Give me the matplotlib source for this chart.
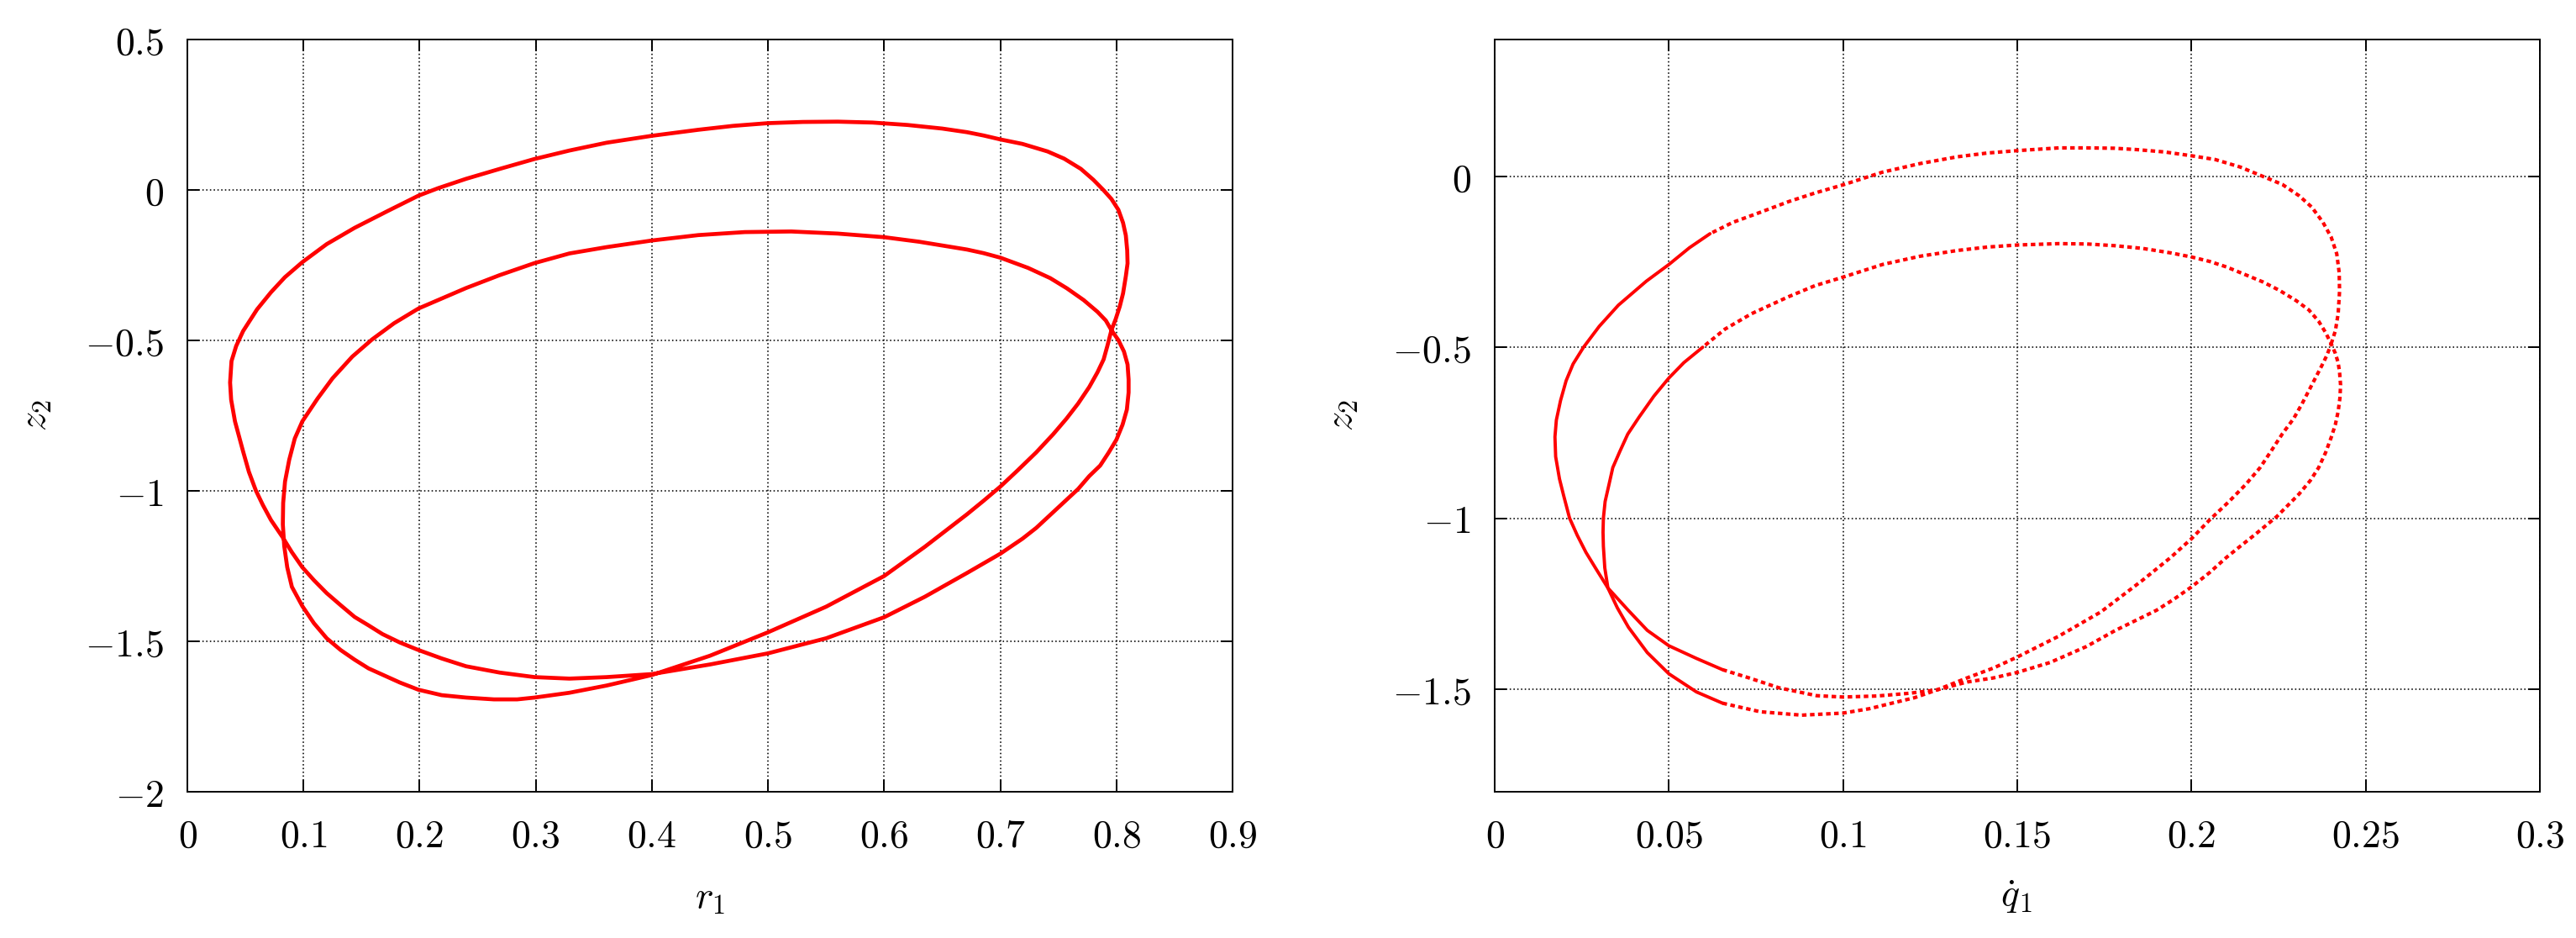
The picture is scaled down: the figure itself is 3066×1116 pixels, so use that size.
import numpy as np
import matplotlib
matplotlib.use("Agg")
import matplotlib.pyplot as plt

plt.rcParams['mathtext.fontset'] = 'cm'
plt.rcParams['font.family'] = ['DejaVu Serif']

# ---------------- data ----------------
# Left panel: z2 versus r1 (closed period-2 orbit), traced point by point
r1 = [0.7957, 0.7993, 0.8029, 0.8057, 0.8081, 0.8096, 0.8093, 0.8081, 0.8057, 0.8017,
      0.7957, 0.7885, 0.7801, 0.7694, 0.7550, 0.7407, 0.7191, 0.7000, 0.6856, 0.6713,
      0.650, 0.620, 0.590, 0.560, 0.530, 0.500, 0.470, 0.440, 0.400, 0.361,
      0.329, 0.299, 0.269, 0.240, 0.216, 0.199, 0.173, 0.144, 0.120, 0.099,
      0.084, 0.072, 0.060, 0.048, 0.042, 0.038, 0.0368, 0.0377, 0.041, 0.048,
      0.053, 0.059, 0.065, 0.072, 0.082, 0.090, 0.099, 0.109, 0.120, 0.132,
      0.144, 0.156, 0.168, 0.183, 0.199, 0.219, 0.240, 0.269, 0.299, 0.329,
      0.361, 0.400, 0.450, 0.500, 0.550, 0.600, 0.635, 0.6713, 0.6856, 0.7000,
      0.7191, 0.731, 0.743, 0.755, 0.767, 0.7766, 0.786, 0.7933, 0.800, 0.8053,
      0.809, 0.8105, 0.8105, 0.8096, 0.8065, 0.8017, 0.7957,
      0.7909, 0.7837, 0.7718, 0.7574, 0.743, 0.7239, 0.700, 0.6856, 0.6713, 0.630,
      0.600, 0.560, 0.520, 0.480, 0.440, 0.400, 0.361, 0.329, 0.299, 0.269,
      0.240, 0.216, 0.199, 0.178, 0.159, 0.142, 0.125, 0.112, 0.099, 0.0925,
      0.0877, 0.0841, 0.0825, 0.0822, 0.0834, 0.086, 0.090, 0.099, 0.109, 0.120,
      0.132, 0.144, 0.156, 0.168, 0.183, 0.199, 0.219, 0.240, 0.264, 0.284,
      0.299, 0.329, 0.361, 0.400, 0.450, 0.500, 0.550, 0.600, 0.635, 0.6713,
      0.6856, 0.700, 0.7144, 0.731, 0.7455, 0.757, 0.767, 0.7766, 0.7837, 0.789,
      0.7921, 0.7957]
z2_left = [-0.466, -0.430, -0.387, -0.344, -0.287, -0.244, -0.201, -0.151, -0.109, -0.066,
           -0.030, 0.001, 0.034, 0.070, 0.104, 0.128, 0.153, 0.168, 0.181, 0.192,
           0.204, 0.216, 0.224, 0.227, 0.226, 0.222, 0.213, 0.200, 0.180, 0.157,
           0.131, 0.103, 0.070, 0.037, 0.006, -0.019, -0.069, -0.126, -0.180, -0.240,
           -0.290, -0.340, -0.397, -0.469, -0.519, -0.569, -0.640, -0.697, -0.769, -0.869,
           -0.937, -0.999, -1.047, -1.097, -1.154, -1.204, -1.254, -1.297, -1.340, -1.380,
           -1.419, -1.447, -1.476, -1.504, -1.529, -1.557, -1.583, -1.604, -1.619, -1.624,
           -1.619, -1.609, -1.577, -1.540, -1.490, -1.420, -1.352, -1.273, -1.241, -1.209,
           -1.159, -1.123, -1.080, -1.037, -0.994, -0.951, -0.916, -0.873, -0.830, -0.780,
           -0.730, -0.673, -0.630, -0.580, -0.537, -0.499, -0.466,
           -0.434, -0.405, -0.366, -0.327, -0.293, -0.259, -0.225, -0.210, -0.198, -0.172,
           -0.157, -0.145, -0.138, -0.140, -0.150, -0.168, -0.190, -0.211, -0.243, -0.283,
           -0.326, -0.366, -0.394, -0.443, -0.497, -0.554, -0.626, -0.694, -0.769, -0.826,
           -0.897, -0.969, -1.040, -1.111, -1.183, -1.254, -1.319, -1.383, -1.440, -1.490,
           -1.529, -1.561, -1.590, -1.611, -1.637, -1.661, -1.679, -1.687, -1.693, -1.693,
           -1.687, -1.671, -1.647, -1.612, -1.548, -1.470, -1.385, -1.283, -1.186, -1.078,
           -1.033, -0.986, -0.934, -0.872, -0.812, -0.760, -0.710, -0.655, -0.606, -0.563,
           -0.520, -0.466]

# Right panel: z2 versus q1-dot (closed period-2 orbit), traced point by point
q1dot = [0.2401, 0.2413, 0.2421, 0.2425, 0.2424, 0.2417, 0.2401, 0.2377, 0.2345, 0.2309,
         0.2261, 0.2197, 0.2140, 0.2068, 0.2000, 0.1924, 0.1843, 0.1779, 0.1699, 0.1619,
         0.1500, 0.1414, 0.1328, 0.1220, 0.1113, 0.1000, 0.0919, 0.0844, 0.0758, 0.0683,
         0.0618, 0.0559, 0.0500, 0.0435, 0.0355, 0.0300, 0.0255, 0.0225, 0.0205, 0.0189,
         0.0177, 0.0173, 0.0175, 0.0186, 0.0198, 0.0215, 0.0237, 0.0262, 0.0292, 0.0325,
         0.0384, 0.0438, 0.0500, 0.0579, 0.0654, 0.0730, 0.0816, 0.0924, 0.1000, 0.1097,
         0.1190, 0.1270, 0.1356, 0.1432, 0.1500, 0.1594, 0.1699, 0.1780, 0.1840, 0.1900,
         0.1948, 0.2000, 0.2052, 0.2100, 0.2140, 0.2181, 0.2245, 0.2309, 0.2341, 0.2365,
         0.2385, 0.2401, 0.2413, 0.2421, 0.2426, 0.2428, 0.2425, 0.2421, 0.2413, 0.2401,
         0.2385, 0.2365, 0.2337, 0.2301, 0.2253, 0.2205, 0.2148, 0.2100, 0.2052, 0.2000,
         0.1940, 0.1860, 0.1780, 0.1700, 0.1619, 0.1500, 0.1414, 0.1328, 0.1220, 0.1113,
         0.1000, 0.0919, 0.0844, 0.0737, 0.0661, 0.0597, 0.0543, 0.0500, 0.0457, 0.0414,
         0.0382, 0.0360, 0.0339, 0.0328, 0.0317, 0.0312, 0.0311, 0.0312, 0.0316, 0.0325,
         0.0352, 0.0384, 0.0438, 0.0500, 0.0579, 0.0654, 0.0762, 0.0881, 0.1000, 0.1076,
         0.1140, 0.1205, 0.1270, 0.1356, 0.1432, 0.1500, 0.1619, 0.1740, 0.1860, 0.1940,
         0.2000, 0.2052, 0.2108, 0.2156, 0.2197, 0.2229, 0.2261, 0.2293, 0.2317, 0.2345,
         0.2373, 0.2389, 0.2401]
z2_right = [-0.490, -0.452, -0.402, -0.337, -0.282, -0.227, -0.178, -0.134, -0.090, -0.057,
            -0.024, 0.003, 0.027, 0.049, 0.060, 0.071, 0.078, 0.082, 0.083, 0.083,
            0.075, 0.068, 0.057, 0.037, 0.012, -0.025, -0.049, -0.074, -0.107, -0.135,
            -0.168, -0.209, -0.258, -0.307, -0.377, -0.439, -0.500, -0.549, -0.598, -0.656,
            -0.713, -0.762, -0.820, -0.885, -0.934, -1.000, -1.050, -1.100, -1.150, -1.204,
            -1.270, -1.328, -1.373, -1.410, -1.443, -1.467, -1.496, -1.519, -1.523, -1.520,
            -1.512, -1.502, -1.479, -1.467, -1.451, -1.422, -1.375, -1.329, -1.299, -1.269,
            -1.238, -1.201, -1.159, -1.115, -1.082, -1.049, -0.995, -0.929, -0.890, -0.852,
            -0.808, -0.764, -0.726, -0.688, -0.649, -0.611, -0.572, -0.545, -0.518, -0.490,
            -0.457, -0.424, -0.391, -0.364, -0.334, -0.309, -0.285, -0.265, -0.249, -0.236,
            -0.224, -0.211, -0.203, -0.198, -0.197, -0.201, -0.207, -0.217, -0.234, -0.258,
            -0.295, -0.320, -0.352, -0.402, -0.447, -0.500, -0.545, -0.590, -0.643, -0.705,
            -0.754, -0.803, -0.852, -0.902, -0.951, -1.000, -1.041, -1.082, -1.145, -1.204,
            -1.262, -1.319, -1.393, -1.455, -1.508, -1.541, -1.566, -1.576, -1.570, -1.557,
            -1.541, -1.525, -1.502, -1.467, -1.438, -1.406, -1.345, -1.274, -1.181, -1.115,
            -1.060, -1.005, -0.951, -0.901, -0.852, -0.803, -0.753, -0.709, -0.666, -0.611,
            -0.556, -0.523, -0.490]

left_xticks = [0, 0.1, 0.2, 0.3, 0.4, 0.5, 0.6, 0.7, 0.8, 0.9]
left_xticklabels = ['0', '0.1', '0.2', '0.3', '0.4', '0.5', '0.6', '0.7', '0.8', '0.9']
left_yticks = [0.5, 0, -0.5, -1, -1.5, -2]
left_yticklabels = ['0.5', '0', '-0.5', '-1', '-1.5', '-2']
right_xticks = [0, 0.05, 0.1, 0.15, 0.2, 0.25, 0.3]
right_xticklabels = ['0', '0.05', '0.1', '0.15', '0.2', '0.25', '0.3']
right_yticks = [0, -0.5, -1, -1.5]
right_yticklabels = ['0', '-0.5', '-1', '-1.5']

# ---------------- figure ----------------
W, H = 3066, 1116
fig = plt.figure(figsize=(W / 100, H / 100), dpi=100)

def box(x0, x1, ytop, ybot):
    return [x0 / W, 1 - ybot / H, (x1 - x0) / W, (ybot - ytop) / H]

axL = fig.add_axes(box(223, 1467, 47, 942))
axR = fig.add_axes(box(1779, 3023, 47, 942))

RED = '#ff0000'
FS = 33

def style(ax, xt, xtl, yt, ytl, xlim, ylim):
    ax.set_xlim(*xlim)
    ax.set_ylim(*ylim)
    ax.set_xticks(xt)
    ax.set_xticklabels(['$' + s + '$' for s in xtl], fontsize=FS)
    ax.set_yticks(yt)
    ax.set_yticklabels(['$' + s + '$' for s in ytl], fontsize=FS)
    ax.tick_params(direction='in', length=10, width=1.4, top=True, right=True,
                   colors='black')
    ax.tick_params(axis='x', pad=22)
    ax.tick_params(axis='y', pad=20)
    for sp in ax.spines.values():
        sp.set_linewidth(1.4)
        sp.set_color('black')
    ax.grid(True, color='black', linestyle=(0, (1, 1.8)), linewidth=1.15)
    ax.set_axisbelow(True)

style(axL, left_xticks, left_xticklabels, left_yticks, left_yticklabels, (0, 0.9), (-2, 0.5))
style(axR, right_xticks, right_xticklabels, right_yticks, right_yticklabels, (0, 0.3), (-1.8, 0.4))

# left curve: solid
axL.plot(r1, z2_left, color=RED, linewidth=3.4, solid_joinstyle='round',
         solid_capstyle='round', zorder=3)

# right curve: solid where sampling is dense, dotted elsewhere
q = np.asarray(q1dot)
z = np.asarray(z2_right)
mid = 0.5 * (q[:-1] + q[1:])
dense = mid < 0.062
start = 0
for i in range(1, len(dense) + 1):
    if i == len(dense) or dense[i] != dense[start]:
        seg = slice(start, i + 1)
        if dense[start]:
            axR.plot(q[seg], z[seg], color=RED, linewidth=2.8,
                     solid_capstyle='round', solid_joinstyle='round', zorder=3)
        else:
            axR.plot(q[seg], z[seg], color=RED, linewidth=3.0,
                     linestyle=(0, (1.3, 1.0)), dash_capstyle='butt', zorder=3)
        start = i

# axis labels
fig.text(845 / W, 1 - 1068 / H, '$r_1$', fontsize=FS, ha='center', va='center')
fig.text(2400 / W, 1 - 1066 / H, r'$\dot{q}_1$', fontsize=FS, ha='center', va='center')
fig.text(42 / W, 1 - 494 / H, '$z_2$', fontsize=FS, ha='center', va='center', rotation=90)
fig.text(1597 / W, 1 - 494 / H, '$z_2$', fontsize=FS, ha='center', va='center', rotation=90)

fig.savefig('out.png', dpi=100)
